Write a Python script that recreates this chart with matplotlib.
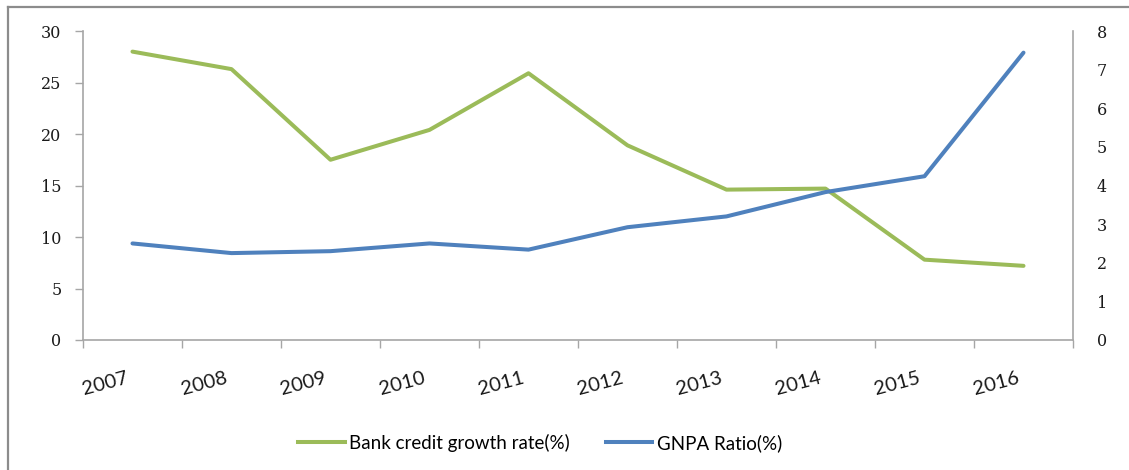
import matplotlib.pyplot as plt
from matplotlib.lines import Line2D
from matplotlib.transforms import ScaledTranslation
import numpy as np

years = ['2007', '2008', '2009', '2010', '2011', '2012', '2013', '2014', '2015', '2016']
credit_growth = [28.0, 26.3, 17.5, 20.4, 25.9, 18.9, 14.6, 14.7, 7.8, 7.2]
gnpa_ratio = [2.50, 2.25, 2.30, 2.50, 2.34, 2.92, 3.20, 3.83, 4.24, 7.44]

GREEN = '#9BBB59'
BLUE = '#4F81BD'
AXIS_GREY = '#A6A6A6'

fig = plt.figure(figsize=(11.29, 4.70), dpi=100)
ax = fig.add_axes([0.0735, 0.2766, 0.8769, 0.6574])
ax2 = ax.twinx()

x = np.arange(len(years))
ax.plot(x, credit_growth, color=GREEN, linewidth=2.9, solid_capstyle='round',
        solid_joinstyle='round', label='Bank credit growth rate(%)')
ax2.plot(x, gnpa_ratio, color=BLUE, linewidth=2.9, solid_capstyle='round',
         solid_joinstyle='round', label='GNPA Ratio(%)')

ax.set_xlim(-0.5, len(years) - 0.5)
ax.set_ylim(0, 30)
ax2.set_ylim(0, 8)
ax.set_yticks(range(0, 31, 5))
ax2.set_yticks(range(0, 9))

# category labels at the centres, tick marks on the boundaries
ax.set_xticks(x)
ax.set_xticks(np.arange(-0.5, len(years), 1), minor=True)
ax.tick_params(axis='x', which='major', length=0, pad=21)
ax.tick_params(axis='x', which='minor', length=5.5, width=1, color=AXIS_GREY, direction='out')
ax.tick_params(axis='y', length=5.5, width=1, color=AXIS_GREY, direction='out', pad=10)
ax2.tick_params(axis='y', length=0, pad=17)

ax.set_xticklabels(years, rotation=15, ha='right', rotation_mode='anchor',
                   fontsize=14.5, family='Lato', color='#1a1a1a')
# nudge the rotated year labels left so they end under the category centre
shift = ScaledTranslation(-7 / 100, 0, fig.dpi_scale_trans)
for tick in ax.xaxis.get_major_ticks():
    tick.label1.set_transform(tick.label1.get_transform() + shift)

for lab in ax.get_yticklabels() + ax2.get_yticklabels():
    lab.set_family('DejaVu Serif')
    lab.set_fontsize(11.5)
    lab.set_color('#1a1a1a')

for a in (ax, ax2):
    a.spines['top'].set_visible(False)
    for s in ('left', 'right', 'bottom'):
        a.spines[s].set_color(AXIS_GREY)
        a.spines[s].set_linewidth(1.2)
ax.spines['right'].set_visible(False)
ax2.spines['left'].set_visible(False)
ax2.spines['bottom'].set_visible(False)

# chart area border
fig.add_artist(Line2D([8 / 1129, 8 / 1129], [0, 1 - 7 / 470], color='#8C8C8C', linewidth=1.6))
fig.add_artist(Line2D([8 / 1129, 1], [1 - 7 / 470, 1 - 7 / 470], color='#8C8C8C', linewidth=1.6))

handles = [Line2D([], [], color=GREEN, linewidth=2.9), Line2D([], [], color=BLUE, linewidth=2.9)]
fig.legend(handles, ['Bank credit growth rate(%)', 'GNPA Ratio(%)'], loc='center',
           bbox_to_anchor=(540 / 1129, 1 - 443 / 470), ncol=2, frameon=False,
           prop={'family': 'Lato', 'size': 13.5}, handlelength=2.5, handletextpad=0.25,
           columnspacing=1.9)

fig.savefig('out.png', dpi=100)
